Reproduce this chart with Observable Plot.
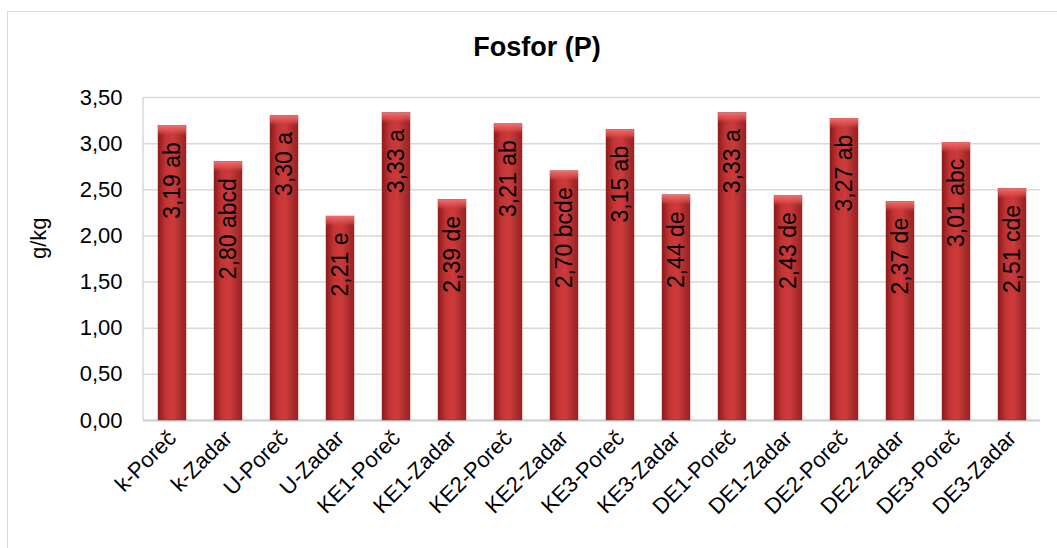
<!DOCTYPE html>
<html>
<head>
<meta charset="utf-8">
<script src="https://cdn.jsdelivr.net/npm/d3@7"></script>
<script src="https://cdn.jsdelivr.net/npm/@observablehq/plot@0.6"></script>
<style>
  html, body { margin: 0; padding: 0; background: #fff; }
  #wrap { position: relative; width: 1057px; height: 548px; overflow: hidden; font-family: "Liberation Sans", Arial, sans-serif; }
  #border { position: absolute; left: 7px; top: 11px; width: 1100px; height: 600px; border: 1.5px solid #d9d9d9; box-sizing: border-box; }
  #title { position: absolute; left: 0; top: 32px; width: 1074px; text-align: center; font-weight: bold; font-size: 27px; color: #000; }
  #chart { position: absolute; left: 0; top: 0; }
</style>
</head>
<body>
<div id="wrap">
  <div id="border"></div>
  <div id="title">Fosfor (P)</div>
  <div id="chart"></div>
</div>
<script>
const categories = ["k-Poreč","k-Zadar","U-Poreč","U-Zadar","KE1-Poreč","KE1-Zadar","KE2-Poreč","KE2-Zadar","KE3-Poreč","KE3-Zadar","DE1-Poreč","DE1-Zadar","DE2-Poreč","DE2-Zadar","DE3-Poreč","DE3-Zadar"];
const values = [3.19, 2.80, 3.30, 2.21, 3.33, 2.39, 3.21, 2.70, 3.15, 2.44, 3.33, 2.43, 3.27, 2.37, 3.01, 2.51];
const letters = ["ab","abcd","a","e","a","de","ab","bcde","ab","de","a","de","ab","de","abc","cde"];
const yTicks = [0, 0.5, 1, 1.5, 2, 2.5, 3, 3.5];

const data = categories.map((c, i) => ({cat: c, value: values[i], label: values[i].toFixed(2).replace(".", ",") + " " + letters[i]}));
const fmt = d => d.toFixed(2).replace(".", ",");

// left axis line (frame edge, not data)
const leftLine = (index, scales, values, dims) => {
  return d3.create("svg:line")
    .attr("x1", dims.marginLeft).attr("x2", dims.marginLeft)
    .attr("y1", dims.marginTop).attr("y2", dims.height - dims.marginBottom)
    .attr("stroke", "#d9d9d9").attr("stroke-width", 1.5).node();
};

const chart = Plot.plot({
  width: 1057,
  height: 548,
  marginTop: 97,
  marginBottom: 128,
  marginLeft: 143,
  marginRight: 17,
  style: {fontFamily: "'Liberation Sans', Arial, sans-serif", fontSize: "22px", color: "#000", background: "transparent"},
  x: {domain: categories, padding: 0.5, range: [129, 1054], label: null},
  y: {domain: [0, 3.5], ticks: yTicks, label: null},
  marks: [
    Plot.gridY(yTicks, {stroke: "#d9d9d9", strokeOpacity: 1, strokeWidth: 1.5}),
    leftLine,
    Plot.ruleY([0], {stroke: "#d0d0d0", strokeWidth: 2}),
    Plot.axisY(yTicks, {tickFormat: fmt, tickSize: 0, tickPadding: 21, fontSize: 22, label: null}),
    Plot.axisX({tickSize: 0, tickPadding: 14, tickRotate: -45, fontSize: 22, label: null}),
    Plot.text(["g/kg"], {frameAnchor: "left", dx: -105, rotate: -90, fontSize: 22, fill: "#000"}),
    Plot.barY(data, {x: "cat", y: "value", fill: "url(#barGrad)", stroke: "#9a2a2a", strokeWidth: 0.5}),
    Plot.barY(data, {x: "cat", y: "value", fill: "url(#topGrad)", render: (index, scales, values, dims, context, next) => {
      const g = next(index, scales, values, dims, context);
      d3.select(g).selectAll("rect").attr("height", 10);
      return g;
    }}),
    Plot.text(data, {x: "cat", y: "value", text: "label", rotate: -90, textAnchor: "end", dy: 16, fontSize: 23, fill: "#000"})
  ]
});

const defs = d3.select(chart).insert("defs", ":first-child");
const g1 = defs.append("linearGradient").attr("id", "barGrad").attr("x1", "0").attr("x2", "1").attr("y1", "0").attr("y2", "0");
g1.append("stop").attr("offset", "0%").attr("stop-color", "#8a1c1c");
g1.append("stop").attr("offset", "28%").attr("stop-color", "#c43434");
g1.append("stop").attr("offset", "55%").attr("stop-color", "#cc3b3b");
g1.append("stop").attr("offset", "100%").attr("stop-color", "#962222");
const g2 = defs.append("linearGradient").attr("id", "topGrad").attr("x1", "0").attr("x2", "0").attr("y1", "0").attr("y2", "1");
g2.append("stop").attr("offset", "0%").attr("stop-color", "#f07070");
g2.append("stop").attr("offset", "60%").attr("stop-color", "#e05252").attr("stop-opacity", 0.7);
g2.append("stop").attr("offset", "100%").attr("stop-color", "#d04444").attr("stop-opacity", 0);

document.getElementById("chart").appendChild(chart);
</script>
</body>
</html>
